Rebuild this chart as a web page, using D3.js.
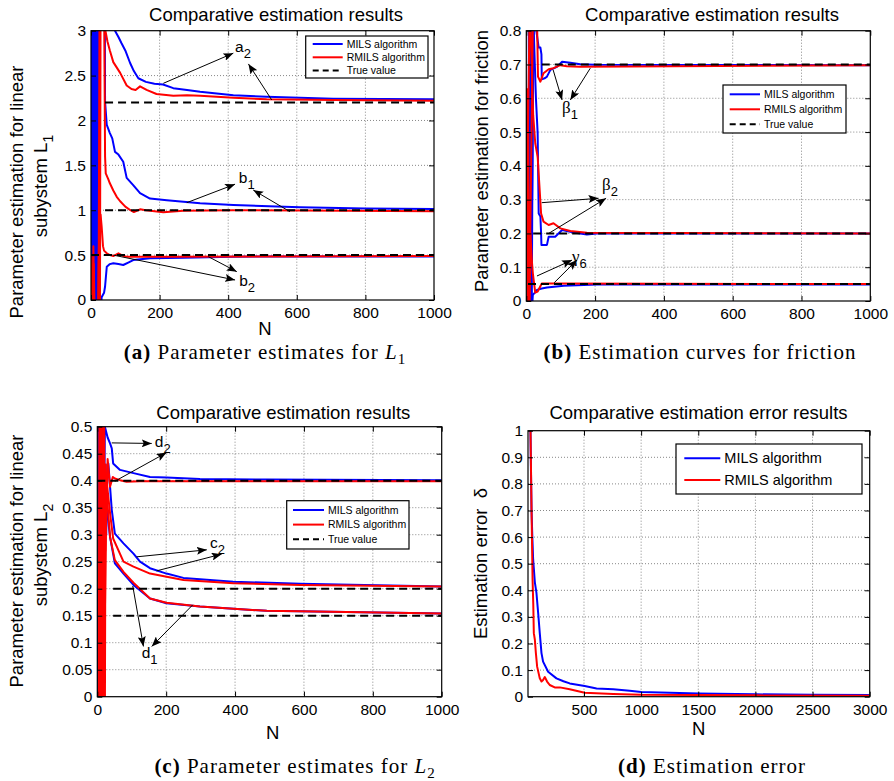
<!DOCTYPE html>
<html>
<head>
<meta charset="utf-8">
<script src="https://cdn.jsdelivr.net/npm/d3@7"></script>
<style>
body { margin: 0; background: #fff; }
svg text { font-family: "Liberation Sans", Arial, sans-serif; fill: #000; }
</style>
</head>
<body>
<svg id="chart" width="894" height="781"></svg>
<script>
// ---- data: [N, value] ----
// (a) linear subsystem L1
const a_a2_mils = [[1,0.3],[3,3.5],[5,-0.5],[8,3.5],[12,-0.5],[16,3.5],[20,0],[22,3.6],[60,3.4],[70,3.0],[80,2.93],[89,2.86],[100,2.78],[114,2.64],[125,2.55],[138,2.47],[160,2.43],[185,2.41],[210,2.40],[240,2.36],[280,2.34],[318,2.32],[415,2.28],[512,2.265],[706,2.243],[850,2.238],[1000,2.235]]
const a_b1_mils = [[2,-0.5],[4,3.5],[7,-0.5],[10,3.5],[14,-0.5],[18,3.5],[21,0.5],[24,3.6],[40,3.6],[41,2.21],[46,1.95],[55,1.86],[62,1.80],[70,1.65],[80,1.62],[94,1.54],[104,1.36],[123,1.28],[143,1.19],[172,1.13],[221,1.11],[318,1.077],[415,1.058],[609,1.032],[800,1.02],[1000,1.014]]
const a_b2_mils = [[2,3.5],[3,-0.5],[4,3.5],[5,-0.5],[6,3.5],[7,-0.5],[8,3.5],[9,-0.5],[10,3.5],[11,-0.5],[12,3.5],[13,-0.5],[14,3.5],[15,-0.5],[16,3.5],[17,-0.5],[18,3.5],[19,-0.5],[20,3.5],[21,-0.5],[26,-0.3],[31,0.03],[38,0.08],[41,0.15],[46,0.37],[55,0.40],[65,0.41],[80,0.40],[94,0.39],[110,0.42],[123,0.445],[172,0.464],[269,0.47],[415,0.483],[1000,0.485]]
const a_a2_rmils = [[22,-0.3],[25,3.5],[40,3.3],[42,3.0],[48,2.88],[55,2.78],[65,2.65],[85,2.53],[104,2.39],[118,2.35],[130,2.34],[143,2.38],[162,2.34],[191,2.295],[240,2.276],[280,2.28],[318,2.276],[415,2.254],[512,2.235],[706,2.228],[1000,2.22]]
const a_b1_rmils = [[1,0.3],[4,-0.3],[7,0.6],[10,-0.3],[26,-0.3],[28,3.5],[38,3.5],[41,1.6],[43,1.41],[50,1.35],[55,1.30],[65,1.22],[75,1.15],[85,1.10],[100,1.04],[115,1.0],[125,0.98],[143,1.01],[160,1.0],[211,0.977],[269,0.995],[415,1.0],[1000,0.99]]
const a_b2_rmils = [[1,0.5],[3,0.0],[5,-0.5],[8,0.4],[11,-0.3],[20,-0.3],[22,0.4],[25,0.93],[28,0.95],[31,0.82],[35,0.6],[38,0.55],[46,0.52],[55,0.5],[65,0.49],[80,0.52],[95,0.49],[104,0.483],[221,0.483],[1000,0.49]]
const a_true = [[41,2.2],[41,1.0],[0,0.5]]

// (b) friction
const b_beta1_mils = [[7,0.9],[9,-0.1],[11,0.9],[13,-0.1],[15,0.9],[17,0.3],[22,0.9],[28,0.85],[29,0.80],[36,0.75],[41,0.75],[44,0.73],[45,0.656],[55,0.66],[60,0.664],[70,0.684],[89,0.693],[104,0.708],[128,0.705],[157,0.701],[200,0.699],[1000,0.698]]
const b_beta2_mils = [[8,-0.1],[10,0.9],[12,-0.1],[14,0.9],[16,0.0],[20,0.85],[28,0.6],[33,0.496],[36,0.259],[41,0.25],[43,0.2],[44,0.166],[60,0.166],[65,0.19],[84,0.19],[104,0.21],[138,0.203],[176,0.197],[205,0.2],[1000,0.2]]
const b_gamma6_mils = [[9,0.3],[11,-0.05],[13,0.1],[15,-0.05],[19,0.018],[25,0.025],[31,0.033],[45,0.037],[60,0.040],[109,0.045],[205,0.049],[1000,0.049]]
const b_beta1_rmils = [[2,0.63],[4,0.0],[6,0.5],[8,-0.1],[20,0.9],[30,0.9],[34,0.664],[41,0.649],[50,0.674],[65,0.686],[79,0.689],[99,0.698],[118,0.695],[157,0.693],[1000,0.698]]
const b_beta2_rmils = [[3,0.1],[5,0.5],[10,0.9],[20,0.55],[26,0.467],[33,0.427],[43,0.259],[50,0.235],[65,0.225],[79,0.23],[99,0.215],[128,0.207],[176,0.202],[1000,0.2]]
const b_gamma6_rmils = [[2,0.55],[4,0.0],[6,0.3],[9,-0.02],[12,0.2],[16,0.12],[19,0.082],[26,0.025],[33,0.028],[45,0.052],[79,0.052],[1000,0.05]]
const b_true = [[45,0.7],[20,0.2],[5,0.05]]

// (c) linear subsystem L2
const c_d2_mils = [[1,0.2],[3,-0.1],[6,0.55],[11,-0.05],[14,0.55],[18,0.2],[22,0.5],[30,0.48],[37,0.469],[42,0.46],[46,0.432],[56,0.426],[66,0.42],[105,0.414],[153,0.407],[201,0.406],[298,0.403],[492,0.402],[1000,0.401]]
const c_c2_mils = [[10,0.0],[14,0.46],[18,0.2],[22,0.37],[26,0.3],[29,0.43],[32,0.432],[42,0.346],[51,0.302],[76,0.284],[105,0.265],[124,0.25],[153,0.238],[201,0.228],[250,0.22],[395,0.213],[589,0.209],[1000,0.204]]
const c_d1_mils = [[2,0.55],[5,-0.05],[13,0.3],[17,0.46],[20,0.2],[24,0.4],[27,0.352],[37,0.296],[51,0.247],[76,0.228],[105,0.207],[153,0.182],[201,0.173],[298,0.167],[492,0.159],[1000,0.154]]
const c_d2_rmils = [[4,-0.1],[6,0.55],[9,-0.05],[12,0.55],[15,0.0],[18,0.55],[21,0.1],[25,0.3],[30,0.44],[37,0.389],[45,0.407],[51,0.404],[66,0.401],[85,0.398],[124,0.399],[1000,0.399]]
const c_c2_rmils = [[13,0.55],[16,-0.05],[19,0.3],[23,0.27],[27,0.4],[32,0.37],[37,0.34],[46,0.293],[76,0.25],[105,0.241],[153,0.228],[250,0.216],[395,0.21],[589,0.207],[1000,0.204]]
const c_d1_rmils = [[10,0.55],[14,-0.05],[20,0.5],[22,-0.05],[24,0.43],[28,0.37],[37,0.296],[51,0.253],[76,0.231],[105,0.211],[153,0.182],[201,0.174],[298,0.167],[492,0.159],[1000,0.154]]
const c_true = [[0,0.4],[46,0.2],[46,0.15]]

// (d) estimation error
const d_mils = [[30,1.05],[36,0.85],[41,0.70],[48,0.6],[55,0.516],[70,0.43],[84,0.39],[99,0.314],[113,0.239],[128,0.164],[142,0.132],[186,0.094],[259,0.069],[320,0.058],[375,0.05],[506,0.04],[610,0.031],[756,0.028],[900,0.022],[1000,0.018],[1337,0.014],[1500,0.012],[2000,0.009],[2500,0.007],[3000,0.006]]
const d_rmils = [[30,1.05],[32,1.0],[41,0.70],[50,0.44],[56,0.35],[61,0.239],[70,0.214],[79,0.164],[90,0.113],[113,0.069],[128,0.057],[142,0.063],[157,0.074],[177,0.057],[200,0.044],[244,0.035],[288,0.035],[375,0.028],[506,0.015],[756,0.01],[1000,0.007],[1500,0.006],[2000,0.005],[3000,0.004]]

// tick values
const ticksN = [0, 200, 400, 600, 800, 1000]
const ticksN3000 = [500, 1000, 1500, 2000, 2500, 3000]
const ticksA = [0, 0.5, 1, 1.5, 2, 2.5, 3]
const ticksB = [0, 0.1, 0.2, 0.3, 0.4, 0.5, 0.6, 0.7, 0.8]
const ticksC = [0, 0.05, 0.1, 0.15, 0.2, 0.25, 0.3, 0.35, 0.4, 0.45, 0.5]
const ticksD = [0, 0.1, 0.2, 0.3, 0.4, 0.5, 0.6, 0.7, 0.8, 0.9, 1]

const legendNames = ['MILS algorithm', 'RMILS algorithm', 'True value']

// ---- drawing ----
let svg = d3.select('#chart')
const BLUE = '#0000ff', RED = '#ff0000'
const fmt = d3.format('~g')

svg.append('defs').append('marker')
    .attr('id', 'arrow')
    .attr('viewBox', '0 0 10 8')
    .attr('refX', 10).attr('refY', 4)
    .attr('markerWidth', 10).attr('markerHeight', 8)
    .attr('markerUnits', 'userSpaceOnUse')
    .attr('orient', 'auto')
    .append('path')
    .attr('d', 'M0,0 L10,4 L0,8 L2,4 Z')
    .attr('fill', '#000')

function drawPanel(p) {
    let x = d3.scaleLinear().domain(p.xDomain).range([p.left, p.right])
    let y = d3.scaleLinear().domain(p.yDomain).range([p.bottom, p.top])
    let g = svg.append('g')

    svg.select('defs').append('clipPath').attr('id', 'clip' + p.id)
        .append('rect')
        .attr('x', p.left).attr('y', p.top)
        .attr('width', p.right - p.left).attr('height', p.bottom - p.top)

    // grid
    let grid = g.append('g').attr('stroke', '#888').attr('stroke-width', 1).attr('stroke-dasharray', '1,2')
    grid.selectAll('.gx').data(p.xTicks.filter(t => t > p.xDomain[0] && t < p.xDomain[1]))
        .enter().append('line')
        .attr('x1', d => x(d)).attr('x2', d => x(d))
        .attr('y1', p.top).attr('y2', p.bottom)
    grid.selectAll('.gy').data(p.yTicks.filter(t => t > p.yDomain[0] && t < p.yDomain[1]))
        .enter().append('line')
        .attr('x1', p.left).attr('x2', p.right)
        .attr('y1', d => y(d)).attr('y2', d => y(d))

    // curves
    let line = d3.line().x(d => x(d[0])).y(d => y(d[1]))
    let plot = g.append('g').attr('clip-path', 'url(#clip' + p.id + ')')
    plot.selectAll('.s').data(p.series)
        .enter().append('path')
        .attr('d', d => line(d.values))
        .attr('fill', 'none')
        .attr('stroke', d => d.color)
        .attr('stroke-width', 2)
        .attr('stroke-linejoin', 'round')
    if (p.truth) {
        plot.selectAll('.t').data(p.truth)
            .enter().append('line')
            .attr('x1', d => x(d[0])).attr('x2', x(p.xDomain[1]))
            .attr('y1', d => y(d[1])).attr('y2', d => y(d[1]))
            .attr('stroke', '#000').attr('stroke-width', 2).attr('stroke-dasharray', '8,5')
    }

    // axes, ticks inward on all four sides
    let axes = [
        [d3.axisBottom(x).tickValues(p.xTicks).tickFormat(fmt).tickPadding(7), 'translate(0,' + p.bottom + ')'],
        [d3.axisLeft(y).tickValues(p.yTicks).tickFormat(fmt).tickPadding(5), 'translate(' + p.left + ',0)'],
        [d3.axisTop(x).tickValues(p.xTicks).tickFormat(''), 'translate(0,' + p.top + ')'],
        [d3.axisRight(y).tickValues(p.yTicks).tickFormat(''), 'translate(' + p.right + ',0)']
    ]
    axes.forEach(a => {
        let ax = g.append('g').attr('transform', a[1])
            .call(a[0].tickSize(-5).tickSizeOuter(0))
        ax.select('.domain').remove()
        ax.attr('font-size', 15.5).attr('font-family', '"Liberation Sans", Arial, sans-serif')
        ax.selectAll('line').attr('stroke', '#000')
    })
    g.append('rect')
        .attr('x', p.left).attr('y', p.top)
        .attr('width', p.right - p.left).attr('height', p.bottom - p.top)
        .attr('fill', 'none').attr('stroke', '#000').attr('stroke-width', 1.2)

    // annotations
    if (p.arrows) {
        g.selectAll('.arr').data(p.arrows).enter().append('line')
            .attr('x1', d => x(d[0])).attr('y1', d => y(d[1]))
            .attr('x2', d => x(d[2])).attr('y2', d => y(d[3]))
            .attr('stroke', '#000').attr('stroke-width', 1)
            .attr('marker-end', 'url(#arrow)')
    }
    if (p.notes) {
        p.notes.forEach(n => {
            let greek = /[α-ω]/.test(n[2])
            let t = g.append('text').attr('x', x(n[0])).attr('y', y(n[1]))
                .attr('font-size', greek ? 17 : 15.5)
                .style('font-family', greek ? '"Liberation Serif", serif' : null)
            t.append('tspan').text(n[2])
            t.append('tspan').attr('font-size', 13).attr('dy', 6)
                .style('font-family', '"Liberation Sans", Arial, sans-serif').text(n[3])
        })
    }

    // legend
    let L = p.legend
    let lg = g.append('g')
    lg.append('rect').attr('x', L.x).attr('y', L.y).attr('width', L.w).attr('height', L.h)
        .attr('fill', '#fff').attr('stroke', '#000').attr('stroke-width', 1.2)
    L.items.forEach((it, i) => {
        let yy = L.y + L.first + i * L.step
        lg.append('line').attr('x1', L.x + L.pad).attr('x2', L.x + L.pad + L.len)
            .attr('y1', yy).attr('y2', yy)
            .attr('stroke', it.color).attr('stroke-width', 2)
            .attr('stroke-dasharray', it.dash || null)
        lg.append('text').attr('x', L.x + L.pad + L.len + 4).attr('y', yy)
            .attr('dy', '0.35em').attr('font-size', L.font).text(it.name)
    })

    // title and labels
    g.append('text').attr('x', p.titleX).attr('y', p.titleY)
        .attr('text-anchor', 'middle').attr('font-size', 18.5).text(p.title)
    if (p.xLabel) {
        g.append('text').attr('x', p.xLabel[0]).attr('y', p.xLabel[1])
            .attr('text-anchor', 'middle').attr('font-size', 18.5).text('N')
    }
    p.yLabel.forEach(l => {
        let t = g.append('text')
            .attr('transform', 'translate(' + l.x + ',' + l.y + ') rotate(-90)')
            .attr('text-anchor', 'middle').attr('font-size', 18.5)
        t.append('tspan').text(l.text)
        if (l.sub) t.append('tspan').attr('font-size', 14).attr('dy', 6).text(l.sub)
    })

    // caption below the panel
    let c = svg.append('text').attr('x', p.caption.x).attr('y', p.caption.y)
        .attr('text-anchor', 'middle')
        .style('font-family', '"Liberation Serif", "Times New Roman", serif')
        .attr('font-size', 21).attr('letter-spacing', 1)
    c.append('tspan').attr('font-weight', 'bold').text(p.caption.tag)
    c.append('tspan').text(' ' + p.caption.text)
    if (p.caption.sym) {
        c.append('tspan').attr('font-style', 'italic').text(p.caption.sym)
        c.append('tspan').attr('font-size', 15).attr('dy', 5).text(p.caption.sub)
    }
}

function legend3(x, y, w, h, first, step, pad, len, font) {
    return {
        x: x, y: y, w: w, h: h, first: first, step: step, pad: pad, len: len, font: font,
        items: [
            { name: legendNames[0], color: BLUE },
            { name: legendNames[1], color: RED },
            { name: legendNames[2], color: '#000', dash: '6,4' }
        ]
    }
}

drawPanel({
    id: 'a', left: 91, right: 434, top: 30.7, bottom: 300,
    xDomain: [0, 1000], yDomain: [0, 3], xTicks: ticksN, yTicks: ticksA,
    series: [
        { values: a_a2_mils, color: BLUE }, { values: a_b1_mils, color: BLUE }, { values: a_b2_mils, color: BLUE },
        { values: a_a2_rmils, color: RED }, { values: a_b1_rmils, color: RED }, { values: a_b2_rmils, color: RED }
    ],
    truth: a_true,
    arrows: [[211, 2.414, 415, 2.75], [527, 2.228, 459, 2.63], [279, 1.084, 420, 1.29], [580, 0.984, 473, 1.225], [342, 0.483, 425, 0.316], [65, 0.5, 420, 0.223]],
    notes: [[420, 2.766, 'a', '2'], [431, 1.307, 'b', '1'], [432, 0.156, 'b', '2']],
    legend: legend3(305.7, 36, 122.3, 42, 8, 13.3, 7, 30, 10.5),
    title: 'Comparative estimation results', titleX: 276, titleY: 20.7,
    xLabel: [265, 335],
    yLabel: [{ x: 22.5, y: 192, text: 'Parameter estimation for linear' }, { x: 46.8, y: 186, text: 'subystem L', sub: '1' }],
    caption: { x: 265, y: 359, tag: '(a)', text: 'Parameter estimates for ', sym: 'L', sub: '1' }
})

drawPanel({
    id: 'b', left: 526.3, right: 870.3, top: 30.7, bottom: 301,
    xDomain: [0, 1000], yDomain: [0, 0.8], xTicks: ticksN, yTicks: ticksB,
    series: [
        { values: b_beta1_mils, color: BLUE }, { values: b_beta2_mils, color: BLUE }, { values: b_gamma6_mils, color: BLUE },
        { values: b_beta1_rmils, color: RED }, { values: b_beta2_rmils, color: RED }, { values: b_gamma6_rmils, color: RED }
    ],
    truth: b_true,
    arrows: [[78, 0.684, 104, 0.595], [186, 0.689, 128, 0.595], [45, 0.291, 210, 0.304], [65, 0.2, 232, 0.304], [31, 0.074, 133, 0.121], [81, 0.054, 147, 0.121]],
    notes: [[104, 0.555, 'β', '1'], [220, 0.328, 'β', '2'], [133, 0.116, 'γ', '6']],
    legend: legend3(723, 85, 123, 48, 9.3, 15, 6.7, 30.3, 10.5),
    title: 'Comparative estimation results', titleX: 712, titleY: 20.7,
    xLabel: null,
    yLabel: [{ x: 488, y: 161, text: 'Parameter estimation for friction' }],
    caption: { x: 700, y: 359, tag: '(b)', text: 'Estimation curves for friction' }
})

drawPanel({
    id: 'c', left: 97.3, right: 441.7, top: 426.7, bottom: 696.7,
    xDomain: [0, 1000], yDomain: [0, 0.5], xTicks: ticksN, yTicks: ticksC,
    series: [
        { values: c_d2_mils, color: BLUE }, { values: c_c2_mils, color: BLUE }, { values: c_d1_mils, color: BLUE },
        { values: c_d2_rmils, color: RED }, { values: c_c2_rmils, color: RED }, { values: c_d1_rmils, color: RED }
    ],
    truth: c_true,
    arrows: [[42, 0.47, 158, 0.469], [51, 0.399, 201, 0.452], [114, 0.259, 318, 0.272], [172, 0.233, 361, 0.264], [103, 0.205, 134, 0.093], [277, 0.17, 158, 0.093]],
    notes: [[167, 0.463, 'd', '2'], [327, 0.275, 'c', '2'], [129, 0.071, 'd', '1']],
    legend: legend3(286.7, 500.7, 122.3, 48.3, 9.3, 14.6, 6.3, 31, 10.5),
    title: 'Comparative estimation results', titleX: 283.3, titleY: 419,
    xLabel: [272.7, 739],
    yLabel: [{ x: 22.5, y: 561, text: 'Parameter estimation for linear' }, { x: 46.8, y: 555, text: 'subystem L', sub: '2' }],
    caption: { x: 295, y: 773, tag: '(c)', text: 'Parameter estimates for ', sym: 'L', sub: '2' }
})

drawPanel({
    id: 'd', left: 528, right: 869.7, top: 430.7, bottom: 696.7,
    xDomain: [10, 3000], yDomain: [0, 1], xTicks: ticksN3000, yTicks: ticksD,
    series: [{ values: d_mils, color: BLUE }, { values: d_rmils, color: RED }],
    legend: {
        x: 676, y: 444, w: 186, h: 50, first: 14.3, step: 21.7, pad: 8.3, len: 36, font: 14.5,
        items: [{ name: legendNames[0], color: BLUE }, { name: legendNames[1], color: RED }]
    },
    title: 'Comparative estimation error results', titleX: 698.5, titleY: 419,
    xLabel: [698.7, 735],
    yLabel: [{ x: 487, y: 563.5, text: 'Estimation error\u00a0\u00a0δ' }],
    caption: { x: 712, y: 773, tag: '(d)', text: 'Estimation error' }
})
</script>
</body>
</html>
